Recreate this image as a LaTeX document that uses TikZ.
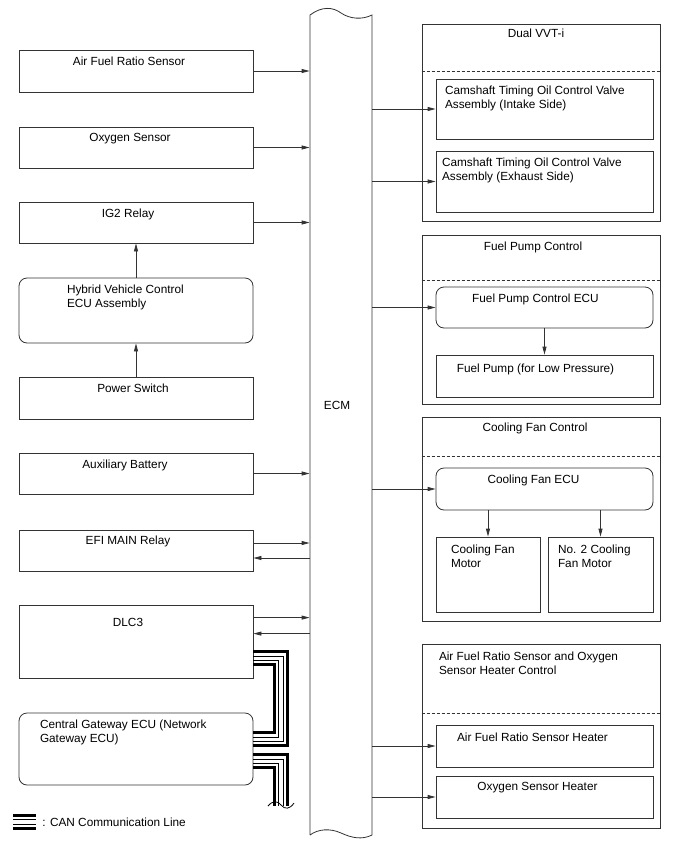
\documentclass[tikz,border=0pt]{standalone}
\usepackage{fontspec}
\setmainfont{Liberation Sans}
\usetikzlibrary{arrows.meta}

\begin{document}
\begin{tikzpicture}[x=1pt,y=-1pt,line width=.8pt,draw=black!80,
  font=\fontsize{11.8pt}{13.6pt}\selectfont,
  box/.style 2 args={draw=black!80,inner sep=0pt,minimum width=#1,minimum height=#2},
  rbox/.style 2 args={box={#1}{#2},rounded corners=8pt},
  lbl/.style={inner sep=0pt,anchor=north},
  lbll/.style={inner sep=0pt,anchor=north west,align=left},
  arr/.style={-{Triangle[length=8pt,width=4pt]}},
  divider/.style={dash pattern=on 3pt off 2pt}]
\useasboundingbox (0,0) rectangle (688,852);

\node[box={234pt}{42pt}] (afs) at (136,71) {};
\node[box={234pt}{41pt}] (oxs) at (136,147.5) {};
\node[box={234pt}{41pt}] (ig2) at (136,222.5) {};
\node[rbox={234pt}{65pt}] (hv) at (136,310.5) {};
\node[box={234pt}{42pt}] (psw) at (136,398) {};
\node[box={234pt}{41pt}] (aux) at (136,473.5) {};
\node[box={234pt}{41pt}] (efi) at (136,550.5) {};
\node[box={234pt}{73pt}] (dlc) at (136,641.5) {};
\node[rbox={234pt}{72pt}] (cgw) at (136,749) {};

\node[lbl] (afs-t) at ([xshift=-7pt,yshift=-7pt]afs.north) {Air Fuel Ratio Sensor};
\node[lbl] (oxs-t) at ([xshift=-6pt,yshift=-6pt]oxs.north) {Oxygen Sensor};
\node[lbl] (ig2-t) at ([xshift=-8pt,yshift=-7pt]ig2.north) {IG2 Relay};
\node[lbll] (hv-t) at ([xshift=48pt,yshift=-7pt]hv.north west) {Hybrid Vehicle Control\\ECU Assembly};
\node[lbl] (psw-t) at ([xshift=-3pt,yshift=-7pt]psw.north) {Power Switch};
\node[lbl] (aux-t) at ([xshift=-11pt,yshift=-7pt]aux.north) {Auxiliary Battery};
\node[lbl] (efi-t) at ([xshift=-8pt,yshift=-6pt]efi.north) {EFI MAIN Relay};
\node[lbl] (dlc-t) at ([xshift=-8pt,yshift=-13pt]dlc.north) {DLC3};
\node[lbll] (cgw-t) at ([xshift=21pt,yshift=-7pt]cgw.north west) {Central Gateway ECU (Network\\Gateway ECU)};

\node[inner sep=0pt,minimum width=62pt,minimum height=820pt] (ecm) at (341,425) {};
\draw (310,835) -- (310,15) .. controls (322,6) and (333,7) .. (341,13)
      .. controls (350,19) and (362,20) .. (372,15) -- (372,835)
      .. controls (362,840) and (352,838) .. (341,833)
      .. controls (330,828) and (318,829) .. (310,835);
\node (ecm-t) at ([xshift=-4pt,yshift=20pt]ecm.center) {ECM};

\node[box={238pt}{197pt}] (vvt) at (541,122.5) {};
\node[box={238pt}{169pt}] (fpc) at (541,319.5) {};
\node[box={238pt}{204pt}] (cfc) at (541,519) {};
\node[box={238pt}{184pt}] (heat) at (541,736) {};
\draw[divider] ([yshift=-48pt]vvt.north west) -- ([yshift=-48pt]vvt.north east);
\draw[divider] ([yshift=-46pt]fpc.north west) -- ([yshift=-46pt]fpc.north east);
\draw[divider] ([yshift=-40pt]cfc.north west) -- ([yshift=-40pt]cfc.north east);
\draw[divider] ([yshift=-70pt]heat.north west) -- ([yshift=-70pt]heat.north east);

\node[box={217pt}{60pt}] (cin) at (544.5,109) {};
\node[box={217pt}{61pt}] (cex) at (544.5,181.5) {};
\node[rbox={217pt}{41pt}] (fpe) at (544.5,307.5) {};
\node[box={217pt}{42pt}] (fp) at (544.5,376) {};
\node[rbox={217pt}{42pt}] (cfe) at (544.5,489) {};
\node[box={104pt}{75pt}] (m1) at (488,574.5) {};
\node[box={105pt}{75pt}] (m2) at (600.5,574.5) {};
\node[box={217pt}{42pt}] (afh) at (544.5,746) {};
\node[box={217pt}{42pt}] (o2h) at (544.5,797) {};

\node[lbl] (vvt-t) at ([xshift=-5pt,yshift=-5pt]vvt.north) {Dual VVT-i};
\node[lbl] (fpc-t) at ([xshift=-8pt,yshift=-7pt]fpc.north) {Fuel Pump Control};
\node[lbl] (cfc-t) at ([xshift=-6pt,yshift=-6pt]cfc.north) {Cooling Fan Control};
\node[lbll] (heat-t) at ([xshift=17pt,yshift=-8pt]heat.north west) {Air Fuel Ratio Sensor and Oxygen\\Sensor Heater Control};
\node[lbll] (cin-t) at ([xshift=9pt,yshift=-7pt]cin.north west) {Camshaft Timing Oil Control Valve\\Assembly (Intake Side)};
\node[lbll] (cex-t) at ([xshift=6pt,yshift=-7pt]cex.north west) {Camshaft Timing Oil Control Valve\\Assembly (Exhaust Side)};
\node[lbl] (fpe-t) at ([xshift=-9pt,yshift=-7pt]fpe.north) {Fuel Pump Control ECU};
\node[lbl] (fp-t) at ([xshift=-9pt,yshift=-9pt]fp.north) {Fuel Pump (for Low Pressure)};
\node[lbl] (cfe-t) at ([xshift=-11pt,yshift=-7pt]cfe.north) {Cooling Fan ECU};
\node[lbll] (m1-t) at ([xshift=15pt,yshift=-8pt]m1.north west) {Cooling Fan\\Motor};
\node[lbll] (m2-t) at ([xshift=10pt,yshift=-8pt]m2.north west) {No. 2 Cooling\\Fan Motor};
\node[lbl] (afh-t) at ([xshift=-12pt,yshift=-8pt]afh.north) {Air Fuel Ratio Sensor Heater};
\node[lbl] (o2h-t) at ([xshift=-7pt,yshift=-6pt]o2h.north) {Oxygen Sensor Heater};

\foreach \n in {afs,oxs,ig2,aux}
  \draw[arr] (\n.east) -- (\n.east -| ecm.west);
\draw[arr] (psw) -- (hv);
\draw[arr] (hv) -- (ig2);
\coordinate (efi-o) at ([yshift=7.5pt]efi.east);
\coordinate (efi-i) at ([yshift=-7.5pt]efi.east);
\coordinate (dlc-o) at ([yshift=-13pt]dlc.north east);
\coordinate (dlc-i) at ([yshift=-29pt]dlc.north east);
\draw[arr] (efi-o) -- (efi-o -| ecm.west);
\draw[arr] (efi-i -| ecm.west) -- (efi-i);
\draw[arr] (dlc-o) -- (dlc-o -| ecm.west);
\draw[arr] (dlc-i -| ecm.west) -- (dlc-i);

\foreach \n in {cin,cex,fpe,cfe,afh,o2h}
  \draw[arr] (\n.west -| ecm.east) -- (\n.west);
\draw[arr] (fpe) -- (fp);
\draw[arr] (cfe.south -| m1) -- (m1);
\draw[arr] (cfe.south -| m2) -- (m2);

\foreach \o/\w in {0/2.6pt,4.33/.8pt,8.67/.8pt,13/2.6pt}{
  \draw[draw=black,line width=\w] ([yshift=-47pt-\o*1pt]dlc.north east) -- ++(34-\o,0)
        |- ([yshift=-33pt+\o*1pt]cgw.north east);
  \draw[draw=black,line width=\w] ([yshift=-42pt-\o*1pt]cgw.north east) -- ++(34-\o,0) -- ++(0,51-\o);
}
\draw[draw=black] (268,806) .. controls (273,800) and (278,801) .. (281,805)
      .. controls (285,810) and (290,809) .. (294,803);

\coordinate (leg) at (13,815.5);
\foreach \o/\w in {0/2.6pt,4.33/.8pt,8.67/.8pt,13/2.6pt}
  \draw[draw=black,line width=\w] ([yshift=-\o*1pt]leg) -- ++(23,0);
\node[inner sep=0pt,anchor=west] (leg-t) at (42,822) {: CAN Communication Line};
\end{tikzpicture}
\end{document}
